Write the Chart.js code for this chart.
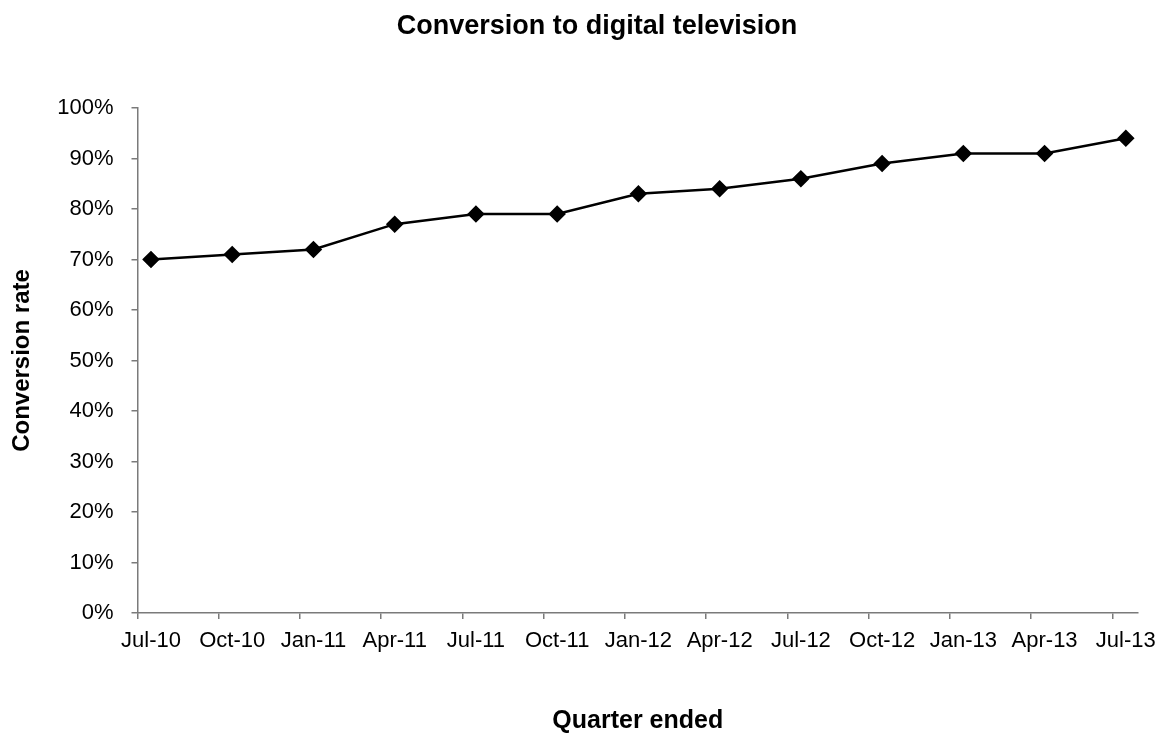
<!DOCTYPE html>
<html>
<head>
<meta charset="utf-8">
<title>Conversion to digital television</title>
<script src="https://cdn.jsdelivr.net/npm/chart.js@4/dist/chart.umd.min.js"></script>
<style>
  html, body { margin: 0; padding: 0; background: #fff; }
  #wrap { width: 1160px; height: 733px; }
</style>
</head>
<body>
<div id="wrap"><canvas id="tvChart" width="1160" height="733"></canvas></div>
<script>
// quarter labels and conversion rate (%)
var quarters = ['Jul-10', 'Oct-10', 'Jan-11', 'Apr-11', 'Jul-11', 'Oct-11', 'Jan-12',
                'Apr-12', 'Jul-12', 'Oct-12', 'Jan-13', 'Apr-13', 'Jul-13'];
var conversion = [70, 71, 72, 77, 79, 79, 83, 84, 86, 89, 91, 91, 94];
var yTicks = [0, 10, 20, 30, 40, 50, 60, 70, 80, 90, 100];
var chartTitle = 'Conversion to digital television';

var tickShift = 0.166; // tick marks sit a little left of the points
var axisGray = '#7a7a7a';
var fontFam = '"Liberation Sans", Arial, sans-serif';

var points = conversion.map(function (v, i) { return { x: i, y: v }; });

// title centred over the whole page rather than the padded box
var titlePlugin = {
  id: 'pageTitle',
  afterDraw: function (chart) {
    var c = chart.ctx;
    c.save();
    c.font = 'bold 27px ' + fontFam;
    c.fillStyle = '#000';
    c.textAlign = 'center';
    c.textBaseline = 'middle';
    c.fillText(chartTitle, 597, 27);
    c.restore();
  }
};

var ctx = document.getElementById('tvChart').getContext('2d');
var chart = new Chart(ctx, {
  type: 'line',
  data: {
    datasets: [{
      label: 'Conversion rate',
      data: points,
      borderColor: '#000',
      backgroundColor: '#000',
      borderWidth: 2.5,
      pointStyle: 'rectRot',
      pointRadius: 7,
      pointHoverRadius: 7,
      tension: 0
    }]
  },
  plugins: [titlePlugin],
  options: {
    responsive: false,
    animation: false,
    layout: { padding: { left: 0, right: 22, top: 108, bottom: 0 } },
    plugins: {
      legend: { display: false },
      tooltip: { enabled: false },
      title: { display: false }
    },
    scales: {
      x: {
        type: 'linear',
        min: -tickShift,
        max: 12.15,
        afterBuildTicks: function (scale) {
          scale.ticks = quarters.map(function (q, i) { return { value: i - tickShift }; });
        },
        afterFit: function (scale) { scale.height = 120; },
        ticks: {
          autoSkip: false,
          maxRotation: 0,
          padding: 9,
          labelOffset: 13.5,
          color: '#000',
          font: { family: fontFam, size: 22 },
          callback: function (v, i) { return quarters[i]; }
        },
        grid: { drawOnChartArea: false, drawTicks: true, tickLength: 6, color: axisGray, lineWidth: 1.5 },
        border: { display: true, color: axisGray, width: 1.5 },
        title: {
          display: true,
          text: 'Quarter ended',
          color: '#000',
          font: { family: fontFam, size: 25, weight: 'bold' },
          padding: { top: 40, bottom: -3 }
        }
      },
      y: {
        min: 0,
        max: 100,
        afterBuildTicks: function (scale) {
          scale.ticks = yTicks.map(function (v) { return { value: v }; });
        },
        afterFit: function (scale) { scale.width = 137.5; },
        ticks: {
          padding: 18,
          color: '#000',
          font: { family: fontFam, size: 22 },
          callback: function (v) { return v + '%'; }
        },
        grid: { drawOnChartArea: false, drawTicks: true, tickLength: 6, color: axisGray, lineWidth: 1.5 },
        border: { display: true, color: axisGray, width: 1.5 },
        title: {
          display: true,
          text: 'Conversion rate',
          color: '#000',
          font: { family: fontFam, size: 24, weight: 'bold' },
          padding: { top: 8, bottom: 0 }
        }
      }
    }
  }
});
</script>
</body>
</html>
